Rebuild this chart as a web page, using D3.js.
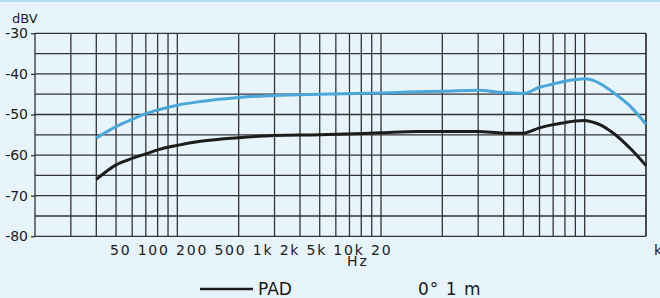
<!DOCTYPE html>
<html>
<head>
<meta charset="utf-8">
<script src="https://cdn.jsdelivr.net/npm/d3@7"></script>
<style>
  body { margin: 0; background: #e8f4fb; overflow: hidden; }
  text { font-family: "DejaVu Sans", sans-serif; fill: #1a1a1a; }
</style>
</head>
<body>
<script>
const w = 660;
const h = 298;

// frequency points (Hz)
var freqs = [40, 50, 60, 70, 80, 100, 130, 200, 300, 500, 1000, 1500, 2000, 3000,
  4000, 5000, 6000, 7000, 8000, 9000, 10000, 11000, 12000, 14000, 17000, 20000];
// blue curve (no pad), dBV
var normal = [-55.8, -53.0, -51.2, -49.8, -48.9, -47.7, -46.8, -45.8, -45.3, -45.0, -44.7, -44.4, -44.3, -44.0,
  -44.6, -44.8, -43.3, -42.5, -41.8, -41.4, -41.2, -41.6, -42.5, -44.8, -48.3, -52.4];
// black curve (PAD), dBV
var pad = [-66.0, -62.4, -60.8, -59.7, -58.7, -57.6, -56.6, -55.7, -55.2, -55.0, -54.5, -54.2, -54.2, -54.2,
  -54.6, -54.6, -53.3, -52.5, -52.0, -51.6, -51.5, -51.9, -52.6, -54.8, -58.7, -62.6];

var yTicks = [-30, -40, -50, -60, -70, -80];
var xLabels = ["50", "100", "200", "500", "1k", "2k", "5k", "10k", "20"];

var svg = d3.select("body")
  .append("svg")
  .attr("width", w)
  .attr("height", h);

// thin blue strip on top
svg.append("rect")
  .attr("x", 0).attr("y", 0)
  .attr("width", w).attr("height", 2)
  .style("fill", "#aedcf3");

var x = d3.scaleLog()
  .domain([20, 20000])
  .range([35, 646]);

var y = d3.scaleLinear()
  .domain([-80, -30])
  .range([236.3, 33.3]);

// grid
var gridX = [];
[10, 100, 1000, 10000].forEach(function(dec) {
  for (var k = 1; k <= 9; k++) {
    var f = dec * k;
    if (f >= 20 && f <= 20000) gridX.push(f);
  }
});
gridX.push(20000);

var grid = svg.append("g").attr("class", "grid");

grid.selectAll("line.v")
  .data(gridX)
  .enter()
  .append("line")
  .attr("class", "v")
  .attr("x1", function(d) { return x(d) })
  .attr("x2", function(d) { return x(d) })
  .attr("y1", y(-30))
  .attr("y2", y(-80))
  .style("stroke", "#333")
  .style("stroke-width", 1.3);

grid.selectAll("line.h")
  .data(d3.range(-80, -29, 5))
  .enter()
  .append("line")
  .attr("class", "h")
  .attr("x1", x(20))
  .attr("x2", x(20000))
  .attr("y1", function(d) { return y(d) })
  .attr("y2", function(d) { return y(d) })
  .style("stroke", "#333")
  .style("stroke-width", 1.3);

// y axis, plain hyphen like the original
var yAxis = svg.append("g")
  .attr("transform", "translate(" + x(20) + ",0)")
  .call(d3.axisLeft(y).tickValues(yTicks).tickSize(4)
    .tickFormat(function(d) { return "-" + Math.abs(d) }));
yAxis.select(".domain").remove();
yAxis.selectAll(".tick line").style("stroke", "#333").style("stroke-width", 1.3);
yAxis.selectAll(".tick text")
  .attr("x", -7)
  .style("font-family", "DejaVu Sans")
  .style("font-size", "14px")
  .style("fill", "#1a1a1a");

svg.append("text")
  .attr("x", 12).attr("y", 23)
  .style("font-size", "13px")
  .text("dBV");

// x labels (squeezed together as in the original)
svg.append("text")
  .attr("x", 110).attr("y", 255)
  .style("font-size", "14px")
  .style("letter-spacing", "1.8px")
  .text(xLabels.join(" "));

svg.append("text")
  .attr("x", 347).attr("y", 266)
  .style("font-size", "14px")
  .style("letter-spacing", "2px")
  .text("Hz");

svg.append("text")
  .attr("x", 654).attr("y", 255)
  .style("font-size", "14px")
  .text("k");

// curves
var line = d3.line()
  .x(function(d) { return x(d[0]) })
  .y(function(d) { return y(d[1]) })
  .curve(d3.curveMonotoneX);

svg.append("path")
  .datum(d3.zip(freqs, normal))
  .attr("d", line)
  .style("fill", "none")
  .style("stroke", "#4ba6da")
  .style("stroke-width", 3);

svg.append("path")
  .datum(d3.zip(freqs, pad))
  .attr("d", line)
  .style("fill", "none")
  .style("stroke", "#1c1c1c")
  .style("stroke-width", 3);

// legend
svg.append("line")
  .attr("x1", 200).attr("x2", 253)
  .attr("y1", 289).attr("y2", 289)
  .style("stroke", "#1c1c1c")
  .style("stroke-width", 2.5);

svg.append("text")
  .attr("x", 258).attr("y", 295)
  .style("font-size", "17px")
  .text("PAD");

svg.append("text")
  .attr("x", 418).attr("y", 295)
  .style("font-size", "17px")
  .style("letter-spacing", "1px")
  .text("0° 1 m");
</script>
</body>
</html>
